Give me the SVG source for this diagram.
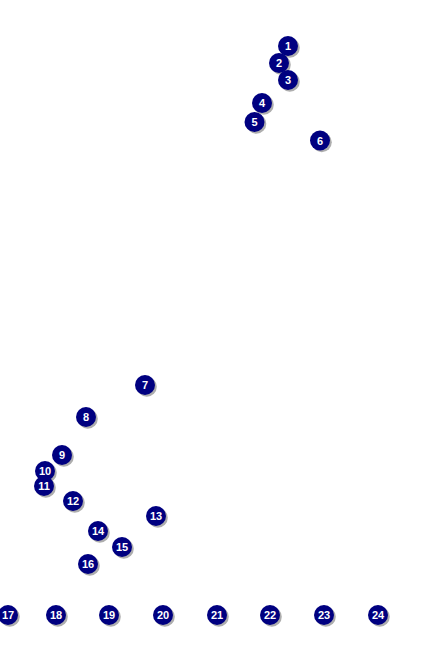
<svg xmlns="http://www.w3.org/2000/svg" width="433" height="650" viewBox="0 0 433 650">
<defs>
<style>
.sh{fill:#9a9a9a;opacity:0.8}
.c{fill:#000080}
.t{fill:#fff;font-family:"Liberation Sans",Arial,sans-serif;font-weight:bold;font-size:11px;text-anchor:middle;dominant-baseline:central}
</style>
<g id="m"><circle class="sh" cx="1.8" cy="1.8" r="10"/><circle class="c" r="10"/></g>
</defs>
<rect width="433" height="650" fill="#fff"/>
<g id="connectors"/>
<g id="n1" transform="translate(288,46)"><use href="#m"/><text class="t">1</text></g>
<g id="n2" transform="translate(279,63)"><use href="#m"/><text class="t">2</text></g>
<g id="n3" transform="translate(288,80)"><use href="#m"/><text class="t">3</text></g>
<g id="n4" transform="translate(262,103)"><use href="#m"/><text class="t">4</text></g>
<g id="n5" transform="translate(254.5,122)"><use href="#m"/><text class="t">5</text></g>
<g id="n6" transform="translate(320,140.5)"><use href="#m"/><text class="t">6</text></g>
<g id="n7" transform="translate(145,385)"><use href="#m"/><text class="t">7</text></g>
<g id="n8" transform="translate(86,417)"><use href="#m"/><text class="t">8</text></g>
<g id="n9" transform="translate(62,455)"><use href="#m"/><text class="t">9</text></g>
<g id="n10" transform="translate(45,471)"><use href="#m"/><text class="t">10</text></g>
<g id="n11" transform="translate(44,486)"><use href="#m"/><text class="t">11</text></g>
<g id="n12" transform="translate(73,501)"><use href="#m"/><text class="t">12</text></g>
<g id="n13" transform="translate(156,516)"><use href="#m"/><text class="t">13</text></g>
<g id="n14" transform="translate(98,531)"><use href="#m"/><text class="t">14</text></g>
<g id="n15" transform="translate(122,547)"><use href="#m"/><text class="t">15</text></g>
<g id="n16" transform="translate(88,564)"><use href="#m"/><text class="t">16</text></g>
<g id="n17" transform="translate(8,615)"><use href="#m"/><text class="t">17</text></g>
<g id="n18" transform="translate(56,615)"><use href="#m"/><text class="t">18</text></g>
<g id="n19" transform="translate(109,615)"><use href="#m"/><text class="t">19</text></g>
<g id="n20" transform="translate(163,615)"><use href="#m"/><text class="t">20</text></g>
<g id="n21" transform="translate(217,615)"><use href="#m"/><text class="t">21</text></g>
<g id="n22" transform="translate(270,615)"><use href="#m"/><text class="t">22</text></g>
<g id="n23" transform="translate(324,615)"><use href="#m"/><text class="t">23</text></g>
<g id="n24" transform="translate(378,615)"><use href="#m"/><text class="t">24</text></g>
</svg>
